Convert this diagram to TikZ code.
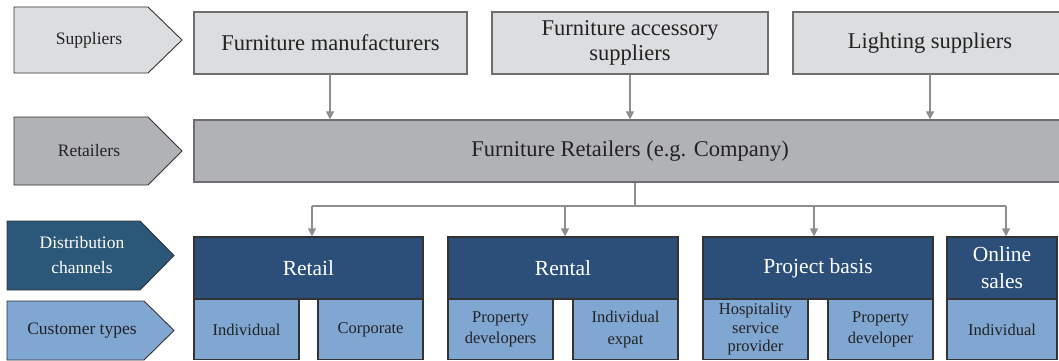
\documentclass[tikz,border=0pt]{standalone}
\usepackage{fontspec}
\setmainfont{Liberation Serif}
\usetikzlibrary{arrows.meta}
\definecolor{lgray}{HTML}{DCDDDF}
\definecolor{mgray}{HTML}{B1B2B5}
\definecolor{dblue}{HTML}{2C4F79}
\definecolor{cblue}{HTML}{2B5779}
\definecolor{lblue}{HTML}{80A6D2}
\definecolor{bgray}{HTML}{6E6E70}
\definecolor{bdark}{HTML}{333333}
\definecolor{agray}{HTML}{8E8E8E}
\definecolor{tdark}{HTML}{222222}
\tikzset{
  chev/.style={draw=bdark, line width=0.9pt},
  topbox/.style={rectangle, draw=bgray, fill=lgray, line width=1.2pt, text=tdark, font=\fontsize{22.5}{25}\selectfont, align=center, inner sep=0pt},
  retbox/.style={rectangle, draw=bgray, fill=mgray, line width=1.2pt, text=tdark, font=\fontsize{22.5}{25}\selectfont, align=center, inner sep=0pt},
  chanbox/.style={rectangle, draw=bdark, fill=dblue, line width=1.2pt, text=white, font=\fontsize{21.5}{27}\selectfont, align=center, inner sep=0pt},
  custbox/.style={rectangle, draw=bdark, fill=lblue, line width=1.2pt, text=tdark, font=\fontsize{16.5}{21.5}\selectfont, align=center, inner sep=0pt},
  lbl/.style={text=tdark, font=\fontsize{17.5}{25}\selectfont, align=center, inner sep=0pt},
  arr/.style={draw=agray, line width=1.3pt, -{Triangle[width=8pt,length=8pt]}},
  ln/.style={draw=agray, line width=1.3pt},
}
\begin{document}
\begin{tikzpicture}[x=1pt,y=-1pt]
\useasboundingbox (0,0) rectangle (1059,361);
\begin{scope}
\clip (0,0) rectangle (1059,361);
% chevrons
\filldraw[chev, fill=lgray] (14,7) -- (148,7) -- (182,40) -- (148,73) -- (14,73) -- cycle;
\node[lbl] (tsup) at (89,40) {Suppliers};
\filldraw[chev, fill=mgray] (14,117) -- (148,117) -- (182,151) -- (148,185) -- (14,185) -- cycle;
\node[lbl] (tret) at (89,151) {Retailers};
\filldraw[chev, fill=cblue] (7,221) -- (140,221) -- (174,255.5) -- (140,290) -- (7,290) -- cycle;
\node[lbl, text=white] (tdist) at (82,255.5) {Distribution\\channels};
\filldraw[chev, fill=lblue] (7,301) -- (144,301) -- (174,330.5) -- (144,360) -- (7,360) -- cycle;
\node[lbl] (tcust) at (82,330.5) {Customer types};
% top boxes
\node[topbox, minimum width=273pt, minimum height=62pt] (fm) at (330.5,43) {Furniture manufacturers};
\node[topbox, minimum width=276pt, minimum height=62pt] (fa) at (630,43) {Furniture accessory\\suppliers};
\node[topbox, minimum width=274pt, minimum height=62pt] (ls) at (930,43) {Lighting suppliers};
\node[retbox, minimum width=880pt, minimum height=62pt] (fr) at (634,151) {};
\node[text=tdark, font=\fontsize{22.5}{25}\selectfont, inner sep=0pt] (frt) at (630,151) {Furniture Retailers (e.g. Company)};
% channel boxes
\node[chanbox, minimum width=229pt, minimum height=62pt] (retail) at (308.5,268) {Retail};
\node[chanbox, minimum width=230pt, minimum height=62pt] (rental) at (563,268) {Rental};
\node[chanbox, minimum width=230pt, minimum height=62pt] (proj) at (818,268) {Project basis};
\node[chanbox, minimum width=110pt, minimum height=62pt] (online) at (1002,268) {Online\\sales};
% customer boxes
\node[custbox, minimum width=105pt, minimum height=60pt] (c1) at (246.5,329.5) {Individual};
\node[custbox, minimum width=105pt, minimum height=60pt] (c2) at (370.5,329.5) {Corporate};
\node[custbox, minimum width=105pt, minimum height=60pt] (c3) at (500.5,329.5) {Property\\developers};
\node[custbox, minimum width=105pt, minimum height=60pt] (c4) at (625.5,329.5) {Individual\\expat};
\node[custbox, minimum width=105pt, minimum height=60pt, font=\fontsize{16.5}{18.5}\selectfont] (c5) at (755.5,329.5) {Hospitality\\service\\provider};
\node[custbox, minimum width=105pt, minimum height=60pt] (c6) at (880.5,329.5) {Property\\developer};
\node[custbox, minimum width=110pt, minimum height=60pt] (c7) at (1002,329.5) {Individual};
\end{scope}
% connectors top
\coordinate (a1) at (330,74);
\draw[arr] (a1) -- (a1 |- fr.north);
\draw[arr] (fa.south) -- (fa.south |- fr.north);
\coordinate (a3) at (930,74);
\draw[arr] (a3) -- (a3 |- fr.north);
% distribution bus
\coordinate (bus) at (635,206);
\draw[ln] (bus |- fr.south) -- (bus);
\coordinate (bl) at (312,206);
\coordinate (br) at (1006,206);
\draw[ln] (bl) -- (br);
\draw[arr] (bl) -- (bl |- retail.north);
\coordinate (b2) at (565,206);
\draw[arr] (b2) -- (b2 |- rental.north);
\coordinate (b3) at (814,206);
\draw[arr] (b3) -- (b3 |- proj.north);
\draw[arr] (br) -- (br |- online.north);
\end{tikzpicture}
\end{document}
